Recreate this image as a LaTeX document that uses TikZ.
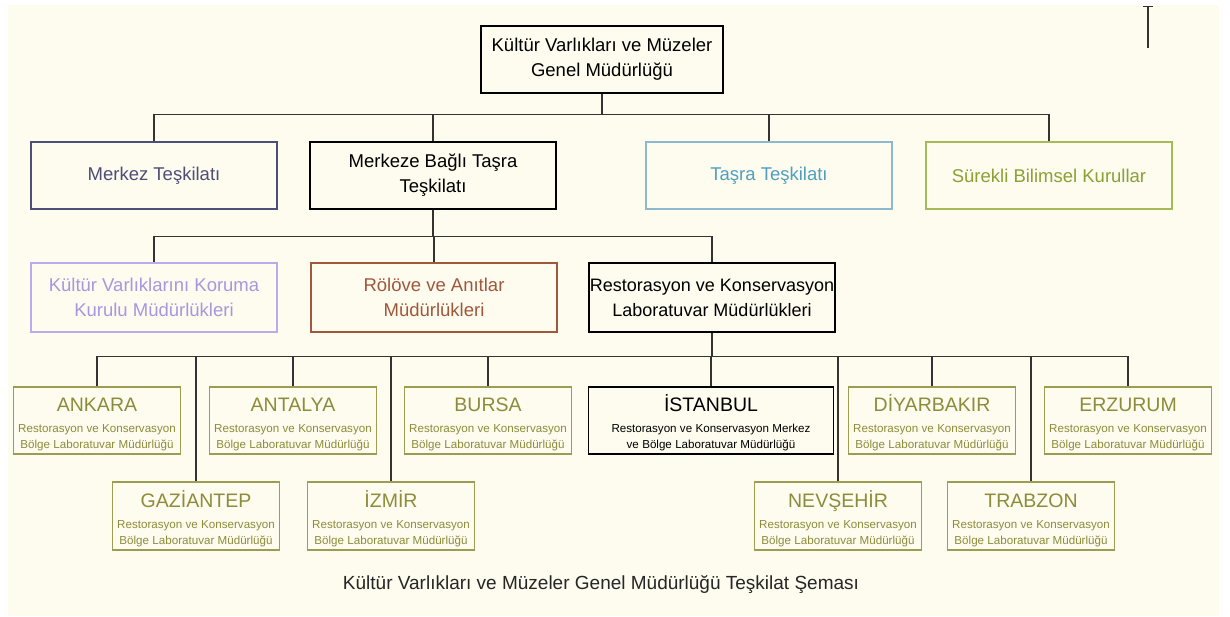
\documentclass[tikz,border=0pt]{standalone}
\usepackage{fontspec}
\setmainfont{Liberation Sans}
\usetikzlibrary{arrows.meta,positioning}

\definecolor{cream}{HTML}{FEFBEF}
\definecolor{linegray}{HTML}{333333}
\definecolor{slate}{HTML}{4E4E78}
\definecolor{skyline}{HTML}{8DB9CF}
\definecolor{skytext}{HTML}{4FA0C0}
\definecolor{leaf}{HTML}{A6BA58}
\definecolor{leaftext}{HTML}{8CA034}
\definecolor{lilac}{HTML}{B9ACEC}
\definecolor{lilactext}{HTML}{A797E0}
\definecolor{sienna}{HTML}{A0583A}
\definecolor{olive}{HTML}{9C9C52}
\definecolor{olivetext}{HTML}{8C8C3A}

\newcommand{\unitfont}{\fontsize{18.5}{25}\selectfont}
\newcommand{\cityfont}{\fontsize{19.5}{21}\selectfont}
\newcommand{\subfont}{\fontsize{11.6}{16}\selectfont}
\newcommand{\labtxt}[3]{{\cityfont\rule{0pt}{22pt}#1\par}\vskip 5pt{\subfont #2\par #3\par}}

\begin{document}
\begin{tikzpicture}[x=1pt,y=-1pt,on grid,line width=1.2pt]
       \tikzstyle{unit}=[draw, minimum width=246pt, minimum height=67pt, inner sep=1pt, align=center, font=\unitfont]
       \tikzstyle{labbox}=[draw=olive, text=olivetext, minimum width=167pt, minimum height=67pt, inner sep=0pt, text width=163pt, align=center]
       \tikzstyle{link}=[draw=linegray, line width=1.3pt]

       \useasboundingbox (0,0) rectangle (1230,616);
       \fill[white] (0,0) rectangle (1230,616);
       \fill[cream] (8,5) rectangle (1219,616);

       \node[unit, minimum width=242pt] (gm) at (602,59.5) {Kültür Varlıkları ve Müzeler\\Genel Müdürlüğü};

       % second level
       \node[unit, draw=slate, text=slate] (merkez) at (154,175.5) {Merkez Teşkilatı};
       \node[unit] (bagli) [right=279pt of merkez] {Merkeze Bağlı Taşra\\Teşkilatı};
       \node[unit, draw=skyline, text=skytext] (tasra) [right=336pt of bagli] {Taşra Teşkilatı};
       \node[unit, draw=leaf, text=leaftext] (kurul) [right=280pt of tasra] {Sürekli Bilimsel Kurullar};

       % third level
       \node[unit, draw=lilac, text=lilactext, minimum height=69pt] (koruma) [below=122pt of merkez] {Kültür Varlıklarını Koruma\\Kurulu Müdürlükleri};
       \node[unit, draw=sienna, text=sienna, minimum height=69pt] (rolove) [right=280pt of koruma] {Rölöve ve Anıtlar\\Müdürlükleri};
       \node[unit, minimum height=69pt, font=\fontsize{18}{25}\selectfont] (lab) [right=278pt of rolove] {Restorasyon ve Konservasyon\\Laboratuvar Müdürlükleri};

       % laboratories
       \node[labbox] (ankara) at (97,420.5) {\labtxt{ANKARA}{Restorasyon ve Konservasyon}{Bölge Laboratuvar Müdürlüğü}};
       \node[labbox] (antalya) [right=196pt of ankara] {\labtxt{ANTALYA}{Restorasyon ve Konservasyon}{Bölge Laboratuvar Müdürlüğü}};
       \node[labbox] (bursa) [right=195pt of antalya] {\labtxt{BURSA}{Restorasyon ve Konservasyon}{Bölge Laboratuvar Müdürlüğü}};
       \node[labbox, draw=black, text=black, minimum width=245pt, text width=241pt] (istanbul) [right=223pt of bursa] {\labtxt{İSTANBUL}{Restorasyon ve Konservasyon Merkez}{ve Bölge Laboratuvar Müdürlüğü}};
       \node[labbox] (diyarbakir) [right=221pt of istanbul] {\labtxt{DİYARBAKIR}{Restorasyon ve Konservasyon}{Bölge Laboratuvar Müdürlüğü}};
       \node[labbox] (erzurum) [right=196pt of diyarbakir] {\labtxt{ERZURUM}{Restorasyon ve Konservasyon}{Bölge Laboratuvar Müdürlüğü}};
       \node[labbox, minimum height=68pt] (gaziantep) [below right=95.5pt and 99pt of ankara] {\labtxt{GAZİANTEP}{Restorasyon ve Konservasyon}{Bölge Laboratuvar Müdürlüğü}};
       \node[labbox, minimum height=68pt] (izmir) [right=195pt of gaziantep] {\labtxt{İZMİR}{Restorasyon ve Konservasyon}{Bölge Laboratuvar Müdürlüğü}};
       \node[labbox, minimum height=68pt] (nevsehir) [right=447pt of izmir] {\labtxt{NEVŞEHİR}{Restorasyon ve Konservasyon}{Bölge Laboratuvar Müdürlüğü}};
       \node[labbox, minimum height=68pt] (trabzon) [right=193pt of nevsehir] {\labtxt{TRABZON}{Restorasyon ve Konservasyon}{Bölge Laboratuvar Müdürlüğü}};

       % connectors
       \path[link] (gm.south) -- ++(0,21) coordinate (b_1);
       \foreach \n in {merkez,bagli,tasra,kurul}
         \path[link] (b_1) -| (\n.north);
       \path[link] (bagli.south) -- ++(0,27) coordinate (b_2);
       \foreach \n in {koruma,rolove,lab}
         \path[link] (b_2) -| (\n.north);
       \path[link] (lab.south) -- ++(0,24) coordinate (b_3);
       \foreach \n in {ankara,antalya,bursa,istanbul,diyarbakir,erzurum,gaziantep,izmir,nevsehir,trabzon}
         \path[link] (b_3) -| (\n.north);

       \coordinate (t_top) at (1148,6);
       \coordinate (t_bot) at (1148,48);
       \path[link, {Bar[width=10pt]}-] (t_top) -- (t_bot);

       \node[font=\fontsize{19}{22}\selectfont, text=black!85] (caption) at (601,584) {Kültür Varlıkları ve Müzeler Genel Müdürlüğü Teşkilat Şeması};
     \end{tikzpicture}
\end{document}
